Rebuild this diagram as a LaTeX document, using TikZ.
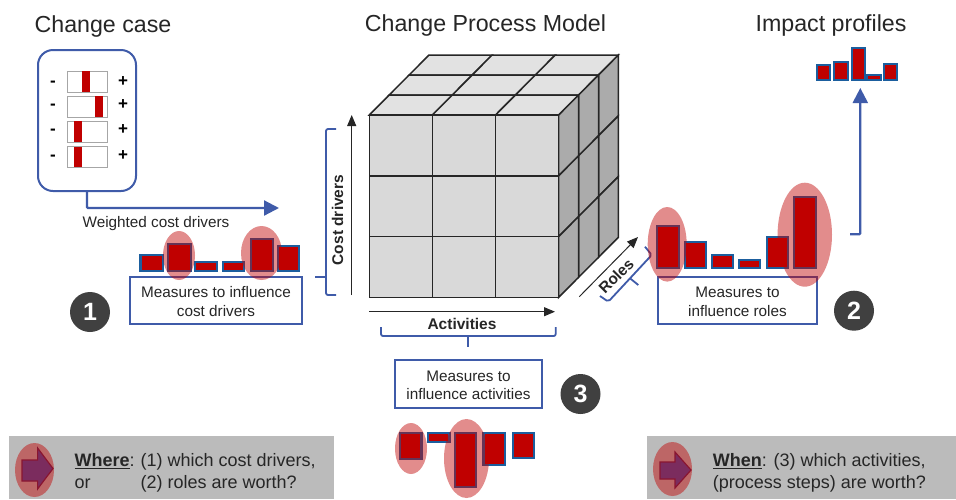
\documentclass[tikz,border=0pt]{standalone}
\usepackage{fontspec}
\setmainfont{Liberation Sans}
\usetikzlibrary{arrows.meta,shapes.geometric,shapes.arrows}
\definecolor{bluE}{HTML}{3F5BA9}
\definecolor{barE}{HTML}{1B5E9E}
\definecolor{reD}{HTML}{C00000}
\definecolor{txT}{HTML}{262626}
\definecolor{graybar}{HTML}{BBBBBB}
\definecolor{cubeF}{HTML}{D9D9D9}
\definecolor{cubeT}{HTML}{E2E2E2}
\definecolor{cubeS}{HTML}{ABABAB}
\definecolor{cubeL}{HTML}{262626}
\definecolor{numC}{HTML}{404040}
\definecolor{plum}{HTML}{7B2C5E}
\definecolor{plumE}{HTML}{8A1530}
\newcommand{\fs}[1]{\fontsize{#1}{#1}\selectfont}
\newcommand{\lift}{\rule{0pt}{13pt}}
\tikzset{
  x=1pt,y=-1pt,
  title/.style={inner sep=0pt,text=txT,font=\fs{23.2}},
  small/.style={inner sep=0pt,text=txT,font=\fs{15.3},align=center},
  axislabel/.style={inner sep=0pt,text=txT,font=\fs{15.5}\bfseries},
  measure/.style={draw=bluE,line width=2pt,rectangle,inner sep=0pt,text=txT,font=\fs{15.3},align=center},
  conn/.style={draw=bluE,line width=2.2pt},
  bracket/.style={draw=bluE,line width=1.8pt,rounded corners=2pt},
  tick/.style={draw=bluE,line width=1.8pt},
  bluehead/.style={-{Triangle[length=15pt,width=15pt]}},
  axis/.style={draw=txT,line width=1pt,-{Triangle[length=11pt,width=9pt]}},
  redbar/.style={fill=reD,draw=barE,line width=2.2pt},
  halo/.style={fill=reD,fill opacity=.45,draw=none},
  slider/.style={fill=white,draw=gray!70,line width=1pt},
  sliderfill/.style={fill=reD,draw=none},
  num/.style={circle,fill=numC,text=white,minimum size=40pt,inner sep=0pt,font=\fs{25}\bfseries},
  pm/.style={inner sep=0pt,font=\fs{17}\bfseries,text=black},
  front/.style={fill=cubeF,draw=cubeL,line width=1.5pt},
  topf/.style={fill=cubeT,draw=cubeL,line width=1.5pt},
  sidef/.style={fill=cubeS,draw=cubeL,line width=1.5pt},
  panel/.style={fill=graybar,draw=none},
  question/.style={inner sep=0pt,text=txT,font=\fs{18},align=left,anchor=west},
  plumarrow/.style={fill=plum,draw=plumE,line width=1.2pt},
}
\begin{document}
\begin{tikzpicture}
\useasboundingbox (0,0) rectangle (956,499);
\fill[white] (0,0) rectangle (956,499);

% titles
\node[title] (t1) at (103,26.5) {Change case};
\node[title] (t2) at (485.5,25.5) {Change Process Model};
\node[title] (t3) at (831,25.5) {Impact profiles};

% change case box
\node[draw=bluE,line width=2pt,rounded corners=15pt,minimum width=98pt,minimum height=141pt,inner sep=0pt] (case) at (87,120.5) {};
\foreach \yt/\yb/\xa/\pmy in {71/92/81.5/81,96/117/94.5/104,121/142/74/129,146.5/167/74/155}{
  \draw[slider] (67,\yt) rectangle (107,\yb);
  \fill[sliderfill] (\xa,\yt) rectangle ++(8,\yb-\yt);
  \node[pm] at (53,\pmy+3) {-};
  \node[pm] at (123,\pmy+1) {+};
}
\coordinate (wend) at (279,208);
\draw[conn,bluehead,rounded corners=1pt] (case.south) |- (wend);
\node[small] (wl) at (156,223.5) {Weighted cost drivers};

% left bars
\foreach \a/\b/\t in {140.5/162.7/255,168/191/244,195/217/262,222.7/244/262,250.7/272.7/239,278/299/246}{
  \draw[redbar] (\a,\t) rectangle (\b,271);
}
\node[measure,minimum width=172pt,minimum height=47pt] (m1) at (216,300.5) {\lift Measures to influence\\[3pt]cost drivers};
\fill[halo] (179,255.5) ellipse [x radius=16,y radius=24.5];
\fill[halo] (261.5,253) ellipse [x radius=20.5,y radius=27];
\node[num] (n1) at (90,312) {1};

% left bracket
\draw[bracket] (336,129) -- (326,129) -- (326,295) -- (336,295);
\coordinate (lt) at (326,277);
\coordinate (ltb) at (315,277);
\draw[tick] (ltb) -- (lt);
\coordinate (cdA) at (351.7,295);
\coordinate (cdB) at (351.7,115);
\draw[axis] (cdA) -- (cdB);
\node[axislabel,rotate=90] (cd) at (337.5,220) {Cost drivers};

% cube
\foreach \i in {2,1,0}{
 \foreach \j in {0,1,2}{
  \pgfmathsetmacro{\xx}{369.3+63.13*\j+19.9*\i}
  \pgfmathsetmacro{\yy}{115-20*\i}
  \draw[topf] (\xx,\yy) -- ++(63.13,0) -- ++(19.9,-20) -- ++(-63.13,0) -- cycle;
 }
}
\foreach \i in {2,1,0}{
 \foreach \j in {0,1,2}{
  \pgfmathsetmacro{\xx}{558.7+19.9*\i}
  \pgfmathsetmacro{\yy}{115+60.77*\j-20*\i}
  \draw[sidef] (\xx,\yy) -- ++(19.9,-20) -- ++(0,60.77) -- ++(-19.9,20) -- cycle;
 }
}
\foreach \i in {0,1,2}{
 \foreach \j in {0,1,2}{
  \pgfmathsetmacro{\xx}{369.3+63.13*\i}
  \pgfmathsetmacro{\yy}{115+60.77*\j}
  \draw[front] (\xx,\yy) rectangle ++(63.13,60.77);
 }
}

% activities
\coordinate (acA) at (369,311.7);
\coordinate (acB) at (555,311.7);
\draw[axis] (acA) -- (acB);
\node[axislabel] (ac) at (462,323.5) {Activities};
\draw[bracket] (381,327) -- (381,336) -- (555.7,336) -- (555.7,327);
\node[measure,minimum width=147pt,minimum height=48pt] (m3) at (468.5,384) {\lift Measures to\\[3pt]influence activities};
\coordinate (at) at (468,336);
\coordinate (atb) at (468,346.7);
\draw[tick] (at) -- (atb);
\node[num] (n3) at (580.5,394) {3};
\foreach \a/\b/\bt in {400/421.5/459,428/449.5/442,455/476/487,483.5/505/465,513/534/458}{
  \draw[redbar] (\a,433) rectangle (\b,\bt);
}
\fill[halo] (411,448.5) ellipse [x radius=16,y radius=25.5];
\fill[halo] (466.5,458.5) ellipse [x radius=22.5,y radius=39.5];

% roles
\coordinate (roA) at (579.3,296.7);
\coordinate (roB) at (638,237);
\draw[axis] (roA) -- (roB);
\node[axislabel,rotate=45] (ro) at (616,276) {Roles};
\draw[bracket] (600,296) -- (608.3,301.7) -- (651.7,255) -- (645,246.7);
\coordinate (rt) at (630,278.3);
\coordinate (rtb) at (638.3,285);
\draw[tick] (rt) -- (rtb);

% right bars
\foreach \a/\b/\t in {657/679/225.7,684.7/706/242,712/733/255,739/760/260,767/788/237,794/815.7/196.7}{
  \draw[redbar] (\a,\t) rectangle (\b,268.3);
}
\node[measure,minimum width=159pt,minimum height=47pt] (m2) at (737.5,300.5) {\lift Measures to\\[3pt]influence roles};
\fill[halo] (667.2,244.3) ellipse [x radius=19.5,y radius=37.3];
\fill[halo] (804.8,234.7) ellipse [x radius=27.2,y radius=52];
\node[num] (n2) at (854,310.7) {2};

% impact profile
\foreach \a/\b/\t in {817.3/830/65,834/848/61.7,851.7/865/48,867/881/75,884/897/64}{
  \draw[redbar] (\a,\t) rectangle (\b,80);
}
\coordinate (ipA) at (850,234.3);
\coordinate (ipB) at (860.3,88);
\draw[conn,bluehead,rounded corners=1pt] (ipA) -| (ipB);

% bottom left panel
\fill[panel] (9,436) rectangle (333.6,499);
\fill[halo] (34.5,470) ellipse [x radius=19.5,y radius=27];
\draw[plumarrow] (22,460) -- (37.6,460) -- (37.6,448) -- (53,468.5) -- (37.6,489) -- (37.6,481) -- (22,481) -- cycle;
\node[question] (q1) at (74.4,472.5) {\makebox[66pt][l]{\underline{\textbf{Where}}:}(1) which cost drivers,\\[4pt]\makebox[66pt][l]{or}(2) roles are worth?};

% bottom right panel
\fill[panel] (647.3,435.7) rectangle (956,499);
\fill[halo] (672.5,469) ellipse [x radius=19.5,y radius=27];
\draw[plumarrow] (660,462) -- (675,462) -- (675,452) -- (691,470) -- (675,488) -- (675,479) -- (660,479) -- cycle;
\node[question] (q2) at (712.7,472.5) {\underline{\textbf{When}}: (3) which activities,\\[4pt](process steps) are worth?};
\end{tikzpicture}
\end{document}
